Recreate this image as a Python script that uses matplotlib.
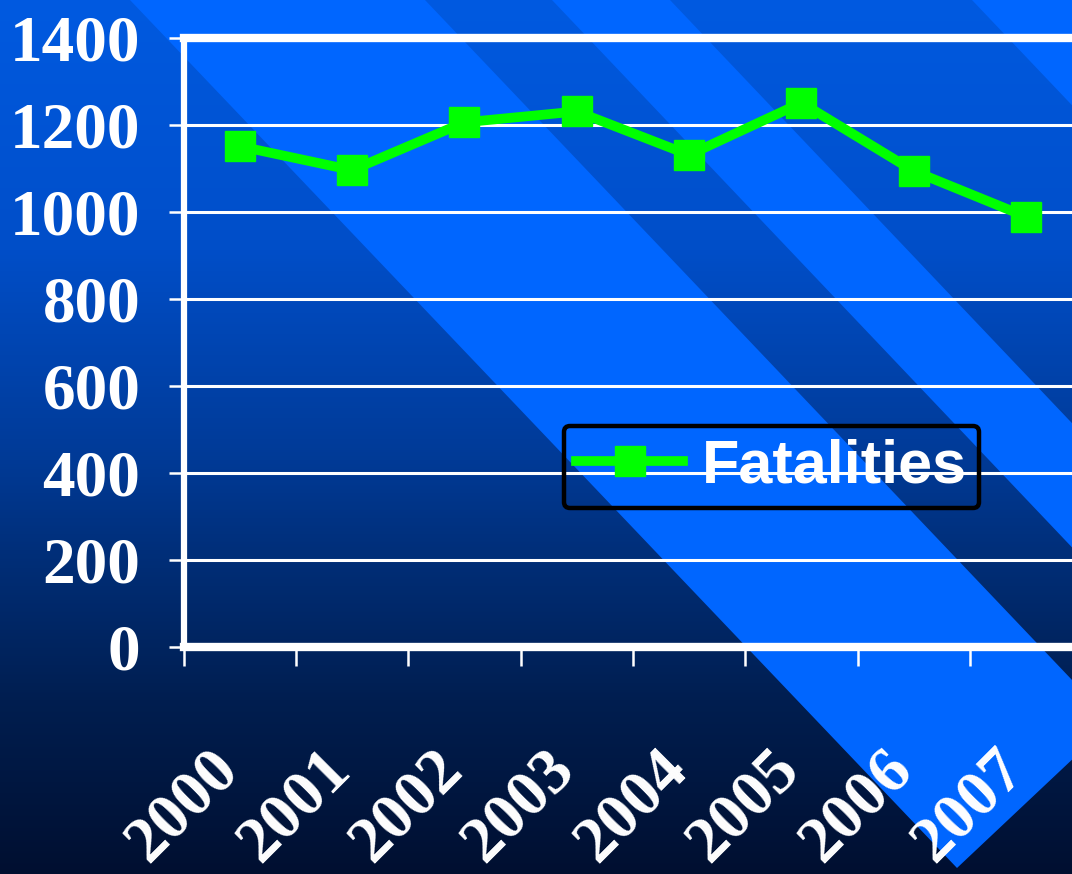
import numpy as np
import matplotlib
matplotlib.use("Agg")
import matplotlib.pyplot as plt
from matplotlib.patches import Polygon
from matplotlib.font_manager import FontProperties

# ── data ──────────────────────────────────────────────────────────────────────
years = ["2000", "2001", "2002", "2003", "2004", "2005", "2006", "2007"]
fatalities = [1150, 1095, 1205, 1230, 1130, 1250, 1093, 988]
y_ticks = [0, 200, 400, 600, 800, 1000, 1200, 1400]
series_label = "Fatalities"

W, H = 1072, 874
DPI = 100

fig = plt.figure(figsize=(W / DPI, H / DPI), dpi=DPI)

# ── background: vertical gradient + diagonal bright stripes (pixel coords) ────
bg = fig.add_axes([0, 0, 1, 1], zorder=-10)
bg.set_xlim(0, W)
bg.set_ylim(H, 0)
bg.axis("off")

stops_y = [0, 250, 460, 550, 700, 874]
stops_g = [90, 78, 58, 47, 30, 15]
stops_b = [225, 200, 150, 122, 80, 48]
rows = np.arange(H)
grad = np.zeros((H, 1, 3))
grad[:, 0, 1] = np.interp(rows, stops_y, stops_g) / 255
grad[:, 0, 2] = np.interp(rows, stops_y, stops_b) / 255
bg.imshow(grad, extent=[0, W, H, 0], aspect="auto", interpolation="bilinear")

bright = "#0066ff"
s = 0.95  # dx/dy of the stripe edges
stripes = [
    [(130, 0), (425, 0), (1112, 722), (957, 868)],
    [(552, 0), (670, 0), (670 + s * 900, 900), (552 + s * 900, 900)],
    [(972, 0), (1400, 0), (1400 + s * 900, 900), (972 + s * 900, 900)],
]
for pts in stripes:
    bg.add_patch(Polygon(pts, closed=True, facecolor=bright, edgecolor="none"))

# ── chart ─────────────────────────────────────────────────────────────────────
left, right = 183.5, 1082.3
top, bottom = 37.5, 646.5
ax = fig.add_axes([left / W, 1 - bottom / H, (right - left) / W, (bottom - top) / H])
ax.set_facecolor("none")

x = np.arange(len(years))
ax.plot(x, fatalities, color="#00ff00", lw=7, marker="s", markersize=22,
        markeredgecolor="#00ff00", label=series_label, solid_joinstyle="miter", zorder=5)

ax.set_xlim(-0.5, len(years) - 0.5)
ax.set_ylim(0, 1400)

ax.set_yticks(y_ticks)
ax.set_yticklabels([str(v) for v in y_ticks])
ax.yaxis.grid(True, color="white", lw=2.2)
ax.set_axisbelow(True)

ax.set_xticks(np.arange(len(years) + 1) - 0.5)
ax.set_xticklabels([])
ax.set_xticks(x, minor=True)
ax.set_xticklabels(years, minor=True, rotation=45, ha="right", va="baseline",
                   rotation_mode="anchor")

tick_font = FontProperties(family="Liberation Serif", weight="bold", size=47)
for lab in ax.get_yticklabels() + ax.get_xticklabels(minor=True):
    lab.set_fontproperties(tick_font)
    lab.set_color("white")

ax.tick_params(axis="y", which="major", length=11, width=1.8, color="white", pad=20)
ax.tick_params(axis="x", which="major", length=14, width=1.8, color="white")
ax.tick_params(axis="x", which="minor", length=0, pad=90)

for side in ["top", "bottom"]:
    ax.spines[side].set_color("white")
    ax.spines[side].set_linewidth(6)
ax.spines["left"].set_color("white")
ax.spines["left"].set_linewidth(4.5)
ax.spines["right"].set_visible(False)

leg = ax.legend(loc="center", bbox_to_anchor=(0.6544, 0.2947), frameon=True,
                prop=dict(family="Liberation Sans", weight="bold", size=44),
                handlelength=1.75, handletextpad=0.3, borderpad=0.2,
                fancybox=True, framealpha=1)
leg.get_frame().set_facecolor("none")
leg.get_frame().set_edgecolor("black")
leg.get_frame().set_linewidth(3.2)
leg.get_frame().set_boxstyle("round", pad=0, rounding_size=0.1)
for t in leg.get_texts():
    t.set_color("white")

fig.savefig("out.png", dpi=DPI)
plt.close(fig)
